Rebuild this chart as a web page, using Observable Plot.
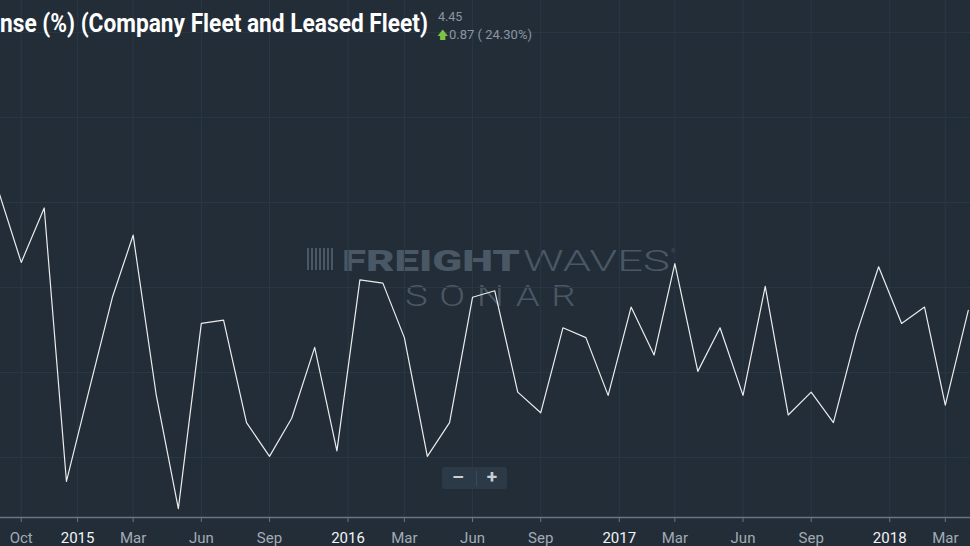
<!DOCTYPE html>
<html>
<head>
<meta charset="utf-8">
<script src="https://cdn.jsdelivr.net/npm/d3@7"></script>
<script src="https://cdn.jsdelivr.net/npm/@observablehq/plot@0.6"></script>
<style>
  html, body { margin: 0; padding: 0; background: #222d38; overflow: hidden; }
  #wrap { position: relative; width: 970px; height: 546px; background: #222d38; overflow: hidden; font-family: Roboto, "Noto Sans", sans-serif; }
  #chart { position: absolute; left: 0; top: 0; z-index: 2; }
  #chart svg { background: transparent !important; display: block; }
  .wm { position: absolute; color: #4a5765; white-space: nowrap; line-height: 1; transform-origin: 0 0; z-index: 1; }
  #title { position: absolute; left: 0; top: 11px; color: #ffffff; font: 700 25px Roboto, sans-serif; white-space: nowrap; line-height: 1; transform-origin: 0 0; z-index: 3; }
  #last { position: absolute; left: 438px; top: 9px; color: #8c96a0; font: 400 12.5px Roboto, sans-serif; z-index: 3; }
  #chg { position: absolute; left: 437px; top: 27px; color: #8c96a0; font: 400 13px Roboto, sans-serif; z-index: 3; white-space: nowrap; }
  #chg .up { color: #7dc242; font-size: 11px; margin-right: 1px; }
  #zoom { position: absolute; left: 442px; top: 467px; width: 65px; height: 22px; background: #2c3947; border-radius: 3px; z-index: 3; color: #c9cfd5; font: 700 19px Roboto, sans-serif; }
  #zoom span { position: absolute; top: -1px; width: 32px; text-align: center; line-height: 22px; }
  #zoom .div { position: absolute; left: 34px; top: 4px; width: 1px; height: 15px; background: #3c4958; }
</style>
</head>
<body>
<div id="wrap">
  <div class="wm" id="logo" style="left:307px;top:248px;width:26px;height:22px;background:repeating-linear-gradient(90deg,#4a5765 0 2px,transparent 2px 4px);"></div>
  <div class="wm" id="wmF" style="left:342px;top:246px;font-weight:900;font-size:30px;">FREIGHT</div>
  <div class="wm" id="wmW" style="left:523px;top:246px;font-weight:300;font-size:30px;">WAVES</div>
  <div class="wm" id="wmR" style="left:671px;top:248px;font-weight:400;font-size:6px;">®</div>
  <div class="wm" id="wmS" style="left:405px;top:281px;font-weight:300;font-size:30px;letter-spacing:9px;">SONAR</div>
  <div id="chart"></div>
  <div id="title">nse (%) (Company Fleet and Leased Fleet)</div>
  <div id="last">4.45</div>
  <div id="chg"><span class="up">&#129093;</span>0.87 ( 24.30%)</div>
  <div id="zoom"><span style="left:0">&#8211;</span><div class="div"></div><span style="left:34px">+</span></div>
</div>
<script>
// ---- data ----
const months = [
  "2014-09-01","2014-10-01","2014-11-01","2014-12-01",
  "2015-01-01","2015-02-01","2015-03-01","2015-04-01","2015-05-01","2015-06-01",
  "2015-07-01","2015-08-01","2015-09-01","2015-10-01","2015-11-01","2015-12-01",
  "2016-01-01","2016-02-01","2016-03-01","2016-04-01","2016-05-01","2016-06-01",
  "2016-07-01","2016-08-01","2016-09-01","2016-10-01","2016-11-01","2016-12-01",
  "2017-01-01","2017-02-01","2017-03-01","2017-04-01","2017-05-01","2017-06-01",
  "2017-07-01","2017-08-01","2017-09-01","2017-10-01","2017-11-01","2017-12-01",
  "2018-01-01","2018-02-01","2018-03-01","2018-04-01"
];
const values = [
  5.53, 4.89, 5.39, 2.88,
  3.73, 4.57, 5.14, 3.68, 2.63, 4.33, 4.36, 3.42, 3.11, 3.46, 4.11, 3.16,
  4.73, 4.70, 4.20, 3.11, 3.42, 4.57, 4.63, 3.70, 3.51, 4.29, 4.20, 3.67,
  4.48, 4.04, 4.88, 3.89, 4.29, 3.67, 4.67, 3.49, 3.70, 3.42, 4.23, 4.85,
  4.33, 4.48, 3.58, 4.45
];
const monthTicks = ["2014-10-01","2015-03-01","2015-06-01","2015-09-01","2016-03-01","2016-06-01",
                    "2016-09-01","2017-03-01","2017-06-01","2017-09-01","2018-03-01"];
const monthLabels = ["Oct","Mar","Jun","Sep","Mar","Jun","Sep","Mar","Jun","Sep","Mar"];
const yearTicks = ["2014-12-16","2015-12-16","2016-12-16","2017-12-16"];
const yearLabels = ["2015","2016","2017","2018"];
const yGrid = [3.10, 3.88, 4.66, 5.44, 6.22, 7.00];
const xDomain = ["2014-09-03", "2018-04-04"];
const yDomain = [2.549, 7.294];

// ---- build ----
const parse = d3.utcParse("%Y-%m-%d");
const data = months.map((m, i) => ({date: parse(m), value: values[i]}));
const mT = monthTicks.map(parse);
const yT = yearTicks.map(parse);
const mLab = new Map(mT.map((d, i) => [+d, monthLabels[i]]));
const yLab = new Map(yT.map((d, i) => [+d, yearLabels[i]]));

const chart = Plot.plot({
  width: 970,
  height: 546,
  marginTop: 0,
  marginBottom: 29,
  marginLeft: 0,
  marginRight: 0,
  style: {background: "transparent", fontFamily: "Roboto, sans-serif", fontSize: "15px", overflow: "hidden"},
  x: {type: "utc", domain: xDomain.map(parse)},
  y: {domain: yDomain},
  marks: [
    Plot.gridY(yGrid, {stroke: "#2a3845", strokeOpacity: 1, strokeWidth: 1}),
    Plot.gridX(mT.concat(yT), {stroke: "#2a3845", strokeOpacity: 1, strokeWidth: 1}),
    Plot.ruleY([yDomain[0]], {stroke: "#6a7581", strokeWidth: 1.3}),
    Plot.line(data, {x: "date", y: "value", stroke: "#ececec", strokeWidth: 1.2, clip: true}),
    Plot.axisX(mT, {tickSize: 5, tickPadding: 10, stroke: "#6a7581", fill: "#a2abb4",
      fontSize: 15, tickFormat: d => mLab.get(+d), label: null}),
    Plot.axisX(yT, {tickSize: 5, tickPadding: 10, stroke: "#6a7581", fill: "#f2f4f6",
      fontSize: 15, fontWeight: 400, tickFormat: d => yLab.get(+d), label: null}),
    Plot.axisY({ticks: [], label: null, tickSize: 0})
  ]
});
document.getElementById("chart").appendChild(chart);

// ---- fit overlay texts to widths ----
function fit(id, w) {
  const el = document.getElementById(id);
  const r = el.getBoundingClientRect();
  if (r.width > 0) el.style.transform = `scaleX(${w / r.width})`;
}
fit("title", 428);
fit("wmF", 178);
fit("wmW", 147);
fit("wmS", 182);
</script>
</body>
</html>
